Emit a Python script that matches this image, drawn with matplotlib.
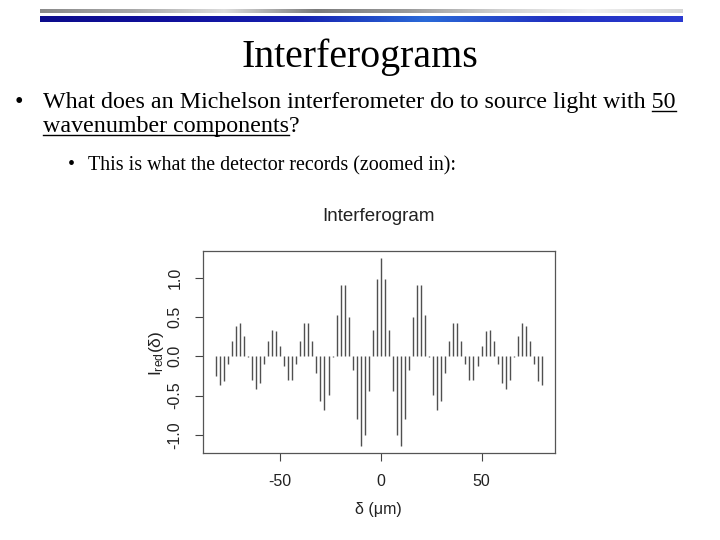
import matplotlib.pyplot as plt
import numpy as np
from matplotlib.colors import LinearSegmentedColormap

# optical path difference (um) and detector signal
delta = np.arange(-82, 81, 2)
intensity = [-0.25, -0.37, -0.31, -0.10, 0.19, 0.38, 0.42, 0.26, -0.01, -0.30,
             -0.42, -0.34, -0.10, 0.19, 0.34, 0.32, 0.13, -0.12, -0.30, -0.30,
             -0.10, 0.19, 0.42, 0.42, 0.19, -0.21, -0.57, -0.69, -0.49, -0.01,
             0.53, 0.91, 0.91, 0.50, -0.17, -0.80, -1.14, -1.00, -0.44, 0.33,
             0.98, 1.25, 0.98, 0.33, -0.44, -1.00, -1.14, -0.80, -0.17, 0.50,
             0.91, 0.91, 0.53, -0.01, -0.49, -0.69, -0.57, -0.21, 0.19, 0.42,
             0.42, 0.19, -0.10, -0.30, -0.30, -0.12, 0.13, 0.32, 0.34, 0.19,
             -0.10, -0.34, -0.42, -0.30, -0.01, 0.26, 0.42, 0.38, 0.19, -0.10,
             -0.31, -0.37]
x_ticks = [-50, 0, 50]
y_ticks = [-1.0, -0.5, 0.0, 0.5, 1.0]
y_ticklabels = ['-1.0', '-0.5', '0.0', '0.5', '1.0']

serif = 'Liberation Serif'
sans = 'Liberation Sans'
plt.rcParams['axes.unicode_minus'] = False

fig = plt.figure(figsize=(7.2, 5.4), dpi=100)

# background axes in pixel units for the slide decoration and text
bg = fig.add_axes([0, 0, 1, 1])
bg.axis('off')

gray = LinearSegmentedColormap.from_list(
    'bar_gray', ['#8a8a8a', '#a8a8a8', '#dcdcdc', '#7c7c7c', '#9a9a9a', '#d0d0d0', '#f0f0f0', '#d6d6d6'])
blue = LinearSegmentedColormap.from_list(
    'bar_blue', ['#0c0c8c', '#10109c', '#1620b0', '#2a6ad8', '#2030c0', '#2a3ad0'])
grad = np.linspace(0, 1, 256)[None, :]
bg.imshow(grad, cmap=gray, extent=(40, 683, 13.5, 9.5), aspect='auto')
bg.imshow(grad, cmap=blue, extent=(40, 683, 22, 16.5), aspect='auto')
bg.set_xlim(0, 720)
bg.set_ylim(540, 0)

bg.text(360, 67, 'Interferograms', fontsize=28.7, family=serif, ha='center', va='baseline')

body = dict(fontsize=17.3, family=serif, va='baseline')
line1_str = 'What does an Michelson interferometer do to source light with 50'
line2_str = 'wavenumber components?'
bg.text(15, 108, '\u2022', **body)
bg.text(43, 108, line1_str, **body)
bg.text(43, 132, line2_str, **body)

sub = dict(fontsize=14.4, family=serif, va='baseline')
bg.text(68, 170, '\u2022', **sub)
bg.text(88, 170, 'This is what the detector records (zoomed in):', **sub)

# underline "50" and "wavenumber components"
fig.canvas.draw()
r = fig.canvas.get_renderer()


def text_width(s, **kw):
    t = bg.text(0, 0, s, **kw)
    w = t.get_window_extent(r).width
    t.remove()
    return w


w_full = text_width(line1_str, **body)
w_50 = text_width('50', **body)
bg.plot([43 + w_full - w_50, 43 + w_full], [110.5, 110.5], color='black', lw=1.0)
w_wave = text_width('wavenumber components', **body)
bg.plot([43, 43 + w_wave], [134.5, 134.5], color='black', lw=1.0)

# the embedded R plot
left, right, top, bottom = 202.7, 555.0, 250.7, 453.3
ax = fig.add_axes([left / 720, 1 - bottom / 540, (right - left) / 720, (bottom - top) / 540])
ax.vlines(delta, 0, intensity, color='#505050', lw=1.0)
ax.margins(x=0.04, y=0.04)
ax.set_xticks(x_ticks)
ax.set_yticks(y_ticks)
ax.set_yticklabels(y_ticklabels, rotation=90, va='center')
ax.tick_params(direction='out', length=5.8, width=0.8, colors='#444444',
               labelcolor='#222222', labelsize=11.5, pad=8.8)
for lab in ax.get_xticklabels() + ax.get_yticklabels():
    lab.set_family(sans)
for sp in ax.spines.values():
    sp.set_color('#555555')
    sp.set_linewidth(0.9)

cx = (left + right) / 2
bg.text(cx, 221, 'Interferogram', fontsize=13.5, family=sans, ha='center', va='baseline', color='#222222')
bg.text(cx, 514, '\u03b4 (\u03bcm)', fontsize=11.5, family=sans, ha='center', va='baseline', color='#222222')
bg.text(156, 353, r'$\mathregular{I_{red}(\delta)}$', fontsize=12.5, family=sans, rotation=90,
        ha='center', va='center', color='#222222')

fig.savefig('out.png', dpi=100)
